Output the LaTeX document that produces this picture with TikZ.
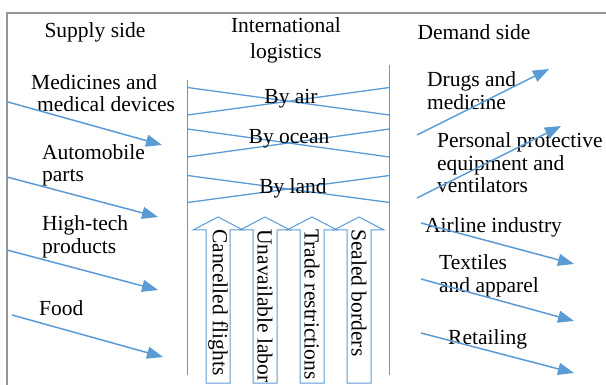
\documentclass[tikz,border=0pt]{standalone}
\usepackage{fontspec}
\setmainfont{Liberation Serif}
\usetikzlibrary{arrows.meta,positioning}
\definecolor{lineblue}{RGB}{91,155,213}
\definecolor{framegray}{RGB}{150,150,150}
\tikzstyle{txt} = [inner sep=0pt, align=left, font=\fontsize{21.5}{22.5}\selectfont]
\tikzstyle{head} = [txt, align=center]
\tikzstyle{arrow} = [lineblue, line width=1.5pt, -{Triangle[length=16pt,width=12pt]}]
\tikzstyle{rail} = [lineblue, line width=1.5pt]
\tikzstyle{band} = [lineblue, line width=1.3pt]
\tikzstyle{blockarrow} = [lineblue, line width=1pt, fill=white]

\begin{document}
\begin{tikzpicture}[x=1pt,y=-1pt]
\useasboundingbox (0,0) rectangle (606,385);
\draw [framegray, line width=1.2pt] (7,385) -- (7,13) -- (606,13);

% headings
\node (supply) [head] at (95,32) {Supply side};
\node (logistics) [head] at (286,40) {International\\[3.5pt]logistics};
\node (demand) [head] at (474,32) {Demand side};

% logistics channel
\coordinate (railL-top) at (187.5,80);
\coordinate (railL-bot) at (187.5,375);
\coordinate (railR-top) at (389.5,65);
\coordinate (railR-bot) at (389.5,375);
\draw [rail] (railL-top) -- (railL-bot);
\draw [rail] (railR-top) -- (railR-bot);
\foreach \t/\b in {87.5/115,129/157,175.5/202.5}{
  \draw [band] (railL-top |- 0,\t) -- (railR-top |- 0,\b);
  \draw [band] (railL-top |- 0,\b) -- (railR-top |- 0,\t);
}
\node (air) [head] at (291,99) {By air};
\node (ocean) [head] at (289,139) {By ocean};
\node (land) [head] at (293,188) {By land};

% disruptions
\foreach \x/\lab [count=\i] in {218/Cancelled flights,265/Unavailable labor,312/Trade restrictions,359/Sealed borders}{
  \draw [blockarrow] (\x-12,383) -- (\x-12,230) -- (\x-25,230) -- (\x,217) -- (\x+25,230) -- (\x+12,230) -- (\x+12,383) -- cycle;
  \node (block\i) [txt, rotate=-90, anchor=west] at (\x,229) {\lab};
}

% supply side
\node (med) [txt, anchor=west] at (31,93) {Medicines and\\\hspace{6pt}medical devices};
\node (auto) [txt, anchor=west] at (42,165.5) {Automobile\\parts};
\node (tech) [txt, anchor=west] at (42,237) {High-tech\\products};
\node (food) [txt, anchor=west] at (39,308) {Food};

% demand side
\node (drugs) [txt, anchor=west] at (427,90.5) {Drugs and\\medicine};
\node (ppe) [txt, anchor=west] at (437,163) {Personal protective\\equipment and\\ventilators};
\node (airline) [txt, anchor=west] at (425,227) {Airline industry};
\node (textile) [txt, anchor=west] at (439,276) {Textiles\\and apparel};
\node (retail) [txt, anchor=west] at (448,339) {Retailing};

%arrows
\coordinate (med-s) at (8,102);     \coordinate (med-e) at (162,145);
\coordinate (auto-s) at (7,177);    \coordinate (auto-e) at (158,217);
\coordinate (tech-s) at (7,250);    \coordinate (tech-e) at (158,290);
\coordinate (food-s) at (12,315);   \coordinate (food-e) at (163,357);
\draw [arrow] (med-s) -- (med-e);
\draw [arrow] (auto-s) -- (auto-e);
\draw [arrow] (tech-s) -- (tech-e);
\draw [arrow] (food-s) -- (food-e);

\coordinate (drugs-s) at (417,135);   \coordinate (drugs-e) at (549,69);
\coordinate (ppe-s) at (417,198);     \coordinate (ppe-e) at (561,126);
\coordinate (airline-s) at (421,223); \coordinate (airline-e) at (574,264);
\coordinate (textile-s) at (421,279); \coordinate (textile-e) at (574,321);
\coordinate (retail-s) at (421,333);  \coordinate (retail-e) at (574,373);
\draw [arrow] (drugs-s) -- (drugs-e);
\draw [arrow] (ppe-s) -- (ppe-e);
\draw [arrow] (airline-s) -- (airline-e);
\draw [arrow] (textile-s) -- (textile-e);
\draw [arrow] (retail-s) -- (retail-e);
\end{tikzpicture}
\end{document}
